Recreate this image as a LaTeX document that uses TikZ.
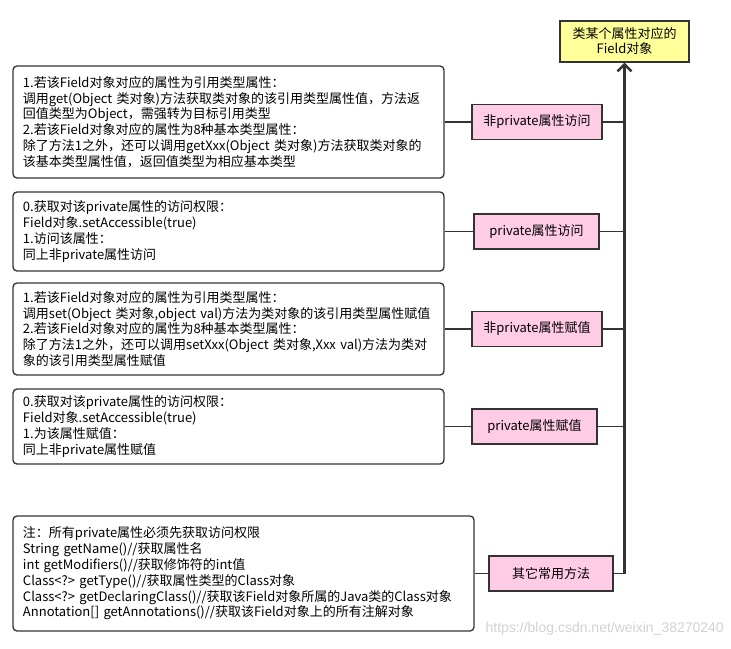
\documentclass[tikz,border=0pt]{standalone}
\usepackage{fontspec}
\setmainfont{Noto Sans CJK SC}
\newfontfamily\wmfont{Liberation Sans}
\usetikzlibrary{arrows.meta}
\definecolor{edge}{HTML}{333333}
\definecolor{pinkfill}{HTML}{FFCCE6}
\definecolor{yellowfill}{HTML}{FFFF99}
\tikzset{
  notebox/.style={draw=edge, line width=1.3pt, rounded corners=4pt, fill=white,
    inner xsep=10pt, inner ysep=0pt, align=left, anchor=center,
    font=\fontsize{13}{15.8}\selectfont},
  pinkbox/.style={draw=edge, line width=1.3pt, fill=pinkfill, inner sep=0pt,
    minimum height=35pt, align=center, font=\fontsize{13}{15}\selectfont},
  topbox/.style={draw=edge, line width=1.3pt, fill=yellowfill, inner sep=0pt,
    minimum width=129pt, minimum height=41pt, align=center,
    font=\fontsize{13}{15}\selectfont},
  link/.style={draw=edge, line width=1.6pt},
  trunk/.style={draw=edge, line width=2.4pt},
}
\begin{document}
\begin{tikzpicture}[x=1pt,y=-1pt]
\useasboundingbox (0,0) rectangle (731,648);
% top target
\node[topbox] (top) at (624.5,41.5) {类某个属性对应的\\Field对象};
% text boxes
\node[notebox, text width=411pt, minimum height=112pt] (b1) at (228.5,122)
 {1.若该Field对象对应的属性为引用类型属性：\\
  调用get(Object 类对象)方法获取类对象的该引用类型属性值，方法返\\
  回值类型为Object，需强转为目标引用类型\\
  2.若该Field对象对应的属性为8种基本类型属性：\\
  除了方法1之外，还可以调用getXxx(Object 类对象)方法获取类对象的\\
  该基本类型属性值，返回值类型为相应基本类型};
\node[notebox, text width=411pt, minimum height=79pt] (b2) at (228.5,231.5)
 {0.获取对该private属性的访问权限：\\
  Field对象.setAccessible(true)\\
  1.访问该属性：\\
  同上非private属性访问};
\node[notebox, text width=411pt, minimum height=92pt] (b3) at (228.5,329)
 {1.若该Field对象对应的属性为引用类型属性：\\
  调用set(Object 类对象,object val)方法为类对象的该引用类型属性赋值\\
  2.若该Field对象对应的属性为8种基本类型属性：\\
  除了方法1之外，还可以调用setXxx(Object 类对象,Xxx val)方法为类对\\
  象的该引用类型属性赋值};
\node[notebox, text width=411pt, minimum height=75pt] (b4) at (228.5,426.5)
 {0.获取对该private属性的访问权限：\\
  Field对象.setAccessible(true)\\
  1.为该属性赋值：\\
  同上非private属性赋值};
\node[notebox, text width=441pt, minimum height=115pt] (b5) at (243.5,573.5)
 {注：所有private属性必须先获取访问权限\\
  String getName()//获取属性名\\
  int getModifiers()//获取修饰符的int值\\
  Class<?> getType()//获取属性类型的Class对象\\
  Class<?> getDeclaringClass()//获取该Field对象所属的Java类的Class对象\\
  Annotation[] getAnnotations()//获取该Field对象上的所有注解对象};
% pink boxes
\node[pinkbox, minimum width=130pt] (p1) at (537,122) {非private属性访问};
\node[pinkbox, minimum width=125pt] (p2) at (536.5,231.5) {private属性访问};
\node[pinkbox, minimum width=130pt] (p3) at (537,329) {非private属性赋值};
\node[pinkbox, minimum width=125pt] (p4) at (534.5,426.5) {private属性赋值};
\node[pinkbox, minimum width=124pt] (p5) at (551,573.5) {其它常用方法};
% connectors
\foreach \i in {1,...,5} {\draw[link] (b\i.east) -- (p\i.west);}
\foreach \i in {1,...,4} {\draw[link] (p\i.east) -- (p\i.east -| top.south);}
\coordinate (corner) at (p5.east -| top.south);
\draw[link] (p5.east) -- (corner);
\draw[trunk, -{Straight Barb[length=7pt,width=14pt]}] (corner) -- (top.south);
% watermark
\node[font=\wmfont\fontsize{14}{14}\selectfont, text=black!18, anchor=east, inner sep=0pt] (wm) at (724,629) {https://blog.csdn.net/weixin\_38270240};
\end{tikzpicture}
\end{document}
